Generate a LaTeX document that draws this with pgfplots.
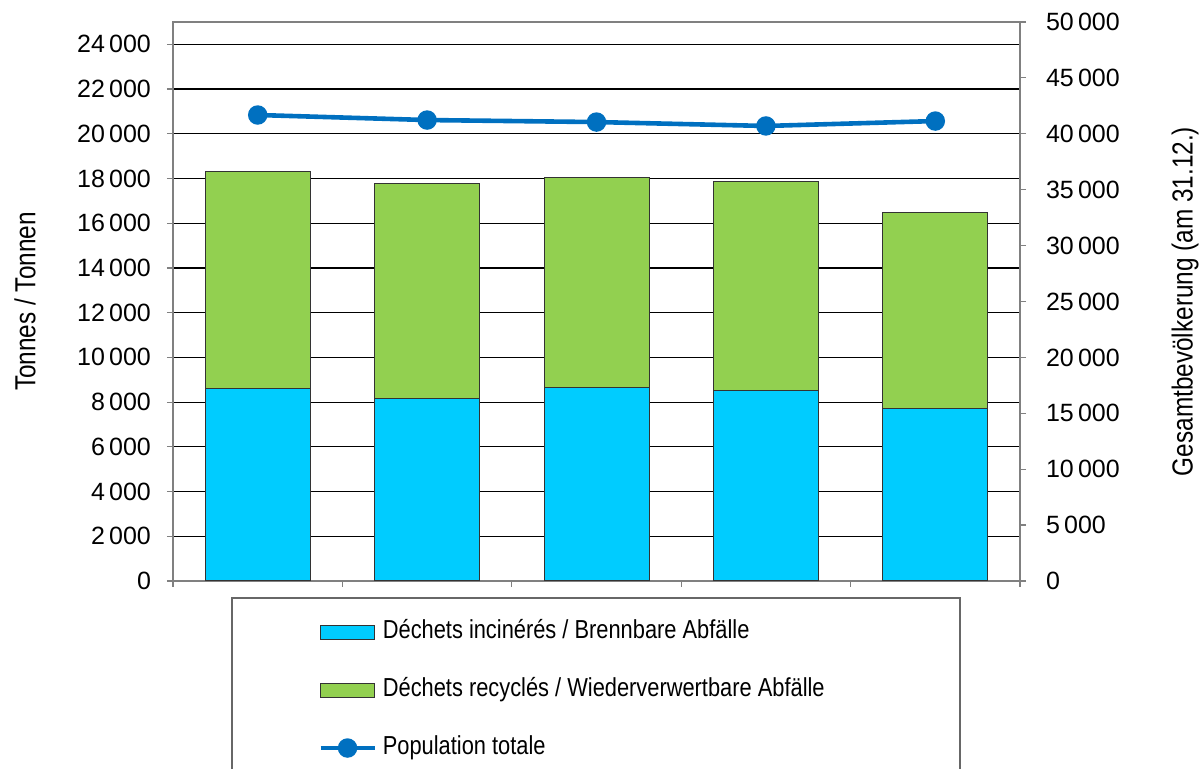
\documentclass[border=0pt]{standalone}
\usepackage{fontspec}
\setmainfont{Liberation Sans}
\newfontfamily\condfont{Liberation Sans}[FakeStretch=0.84]
\usepackage{pgfplots}
\pgfplotsset{compat=1.18}

\definecolor{incin}{RGB}{0,204,255}
\definecolor{recyc}{RGB}{146,208,80}
\definecolor{popu}{RGB}{0,112,192}
\definecolor{axgray}{RGB}{128,128,128}

\begin{document}
\begin{tikzpicture}
\pgfplotsset{
  common/.style={
    scale only axis,
    width=423.5pt, height=279.5pt,
    at={(0pt,0pt)}, anchor=south west,
    xmin=0.5, xmax=5.5,
    tick align=outside,
    major tick length=3pt,
    tick style={axgray, line width=0.6pt},
    axis line style={axgray, line width=0.8pt},
    ticklabel style={font=\fontsize{12.5}{14}\selectfont},
    scaled y ticks=false,
    /pgf/number format/assume math mode=true,
    /pgf/number format/1000 sep={\,},
    /pgf/number format/fixed,
  },
}
% bars: tonnes
\begin{axis}[common,
  ybar stacked,
  bar width=52.5pt,
  ymin=0, ymax=25000,
  ytick={0,2000,...,24000},
  xtick={0.5,1.5,...,5.5},
  xticklabels={},
  ytick pos=left, xtick pos=bottom,
  yticklabel style={xshift=-4.5pt},
  ymajorgrids,
  grid style={black, line width=0.6pt},
  ylabel={\condfont Tonnes / Tonnen},
  ylabel style={font=\fontsize{14.5}{16}\selectfont, at={(axis description cs:0,0.5)}, anchor=center, yshift=74pt},
]
\addplot[fill=incin, draw=black!80, line width=0.5pt] coordinates {(1,8630) (2,8180) (3,8670) (4,8540) (5,7730)};
\addplot[fill=recyc, draw=black!80, line width=0.5pt] coordinates {(1,9690) (2,9610) (3,9390) (4,9340) (5,8760)};
\end{axis}
% line: population
\begin{axis}[common,
  axis y line*=right,
  axis x line=none,
  ymin=0, ymax=50000,
  ytick={0,5000,...,50000},
  yticklabel style={xshift=6.5pt},
  ylabel={\condfont Gesamtbevölkerung (am 31.12.)},
  ylabel style={font=\fontsize{14.5}{16}\selectfont, at={(axis description cs:1,0.5)}, anchor=center, yshift=-82.5pt},
  legend style={at={(axis description cs:0.171,-0.07)}, anchor=north west,
    draw=none, fill=none, inner sep=0pt, row sep=17.5pt, column sep=3pt,
    font=\condfont\fontsize{13}{15}\selectfont,
    nodes={inner sep=0pt, text height=9pt, text depth=2.5pt}},
  legend cell align=left,
]
\addlegendimage{legend image code/.code={\draw[fill=incin, draw=black!80, line width=0.5pt] (0pt,-3.5pt) rectangle (27pt,3.5pt);}}
\addlegendentry{Déchets incinérés / Brennbare Abfälle}
\addlegendimage{legend image code/.code={\draw[fill=recyc, draw=black!80, line width=0.5pt] (0pt,-3.5pt) rectangle (27pt,3.5pt);}}
\addlegendentry{Déchets recyclés / Wiederverwertbare Abfälle}
\addplot[popu, line width=2.3pt, mark=*, mark size=3.7pt, mark options={fill=popu, draw=popu},
  legend image code/.code={\draw[popu, line width=2.3pt] (0pt,0pt) -- (27pt,0pt); \fill[popu] (13.5pt,0pt) circle (3.7pt);}]
  coordinates {(1,41680) (2,41230) (3,41050) (4,40700) (5,41140)};
\addlegendentry{Population totale}
\end{axis}
\draw[axgray!80!black, line width=0.8pt] (29.5pt,-8.5pt) rectangle (393.5pt,-130pt);
\pgfresetboundingbox
\useasboundingbox (-86.5pt,-94pt) rectangle (515pt,290.5pt);
\end{tikzpicture}
\end{document}
